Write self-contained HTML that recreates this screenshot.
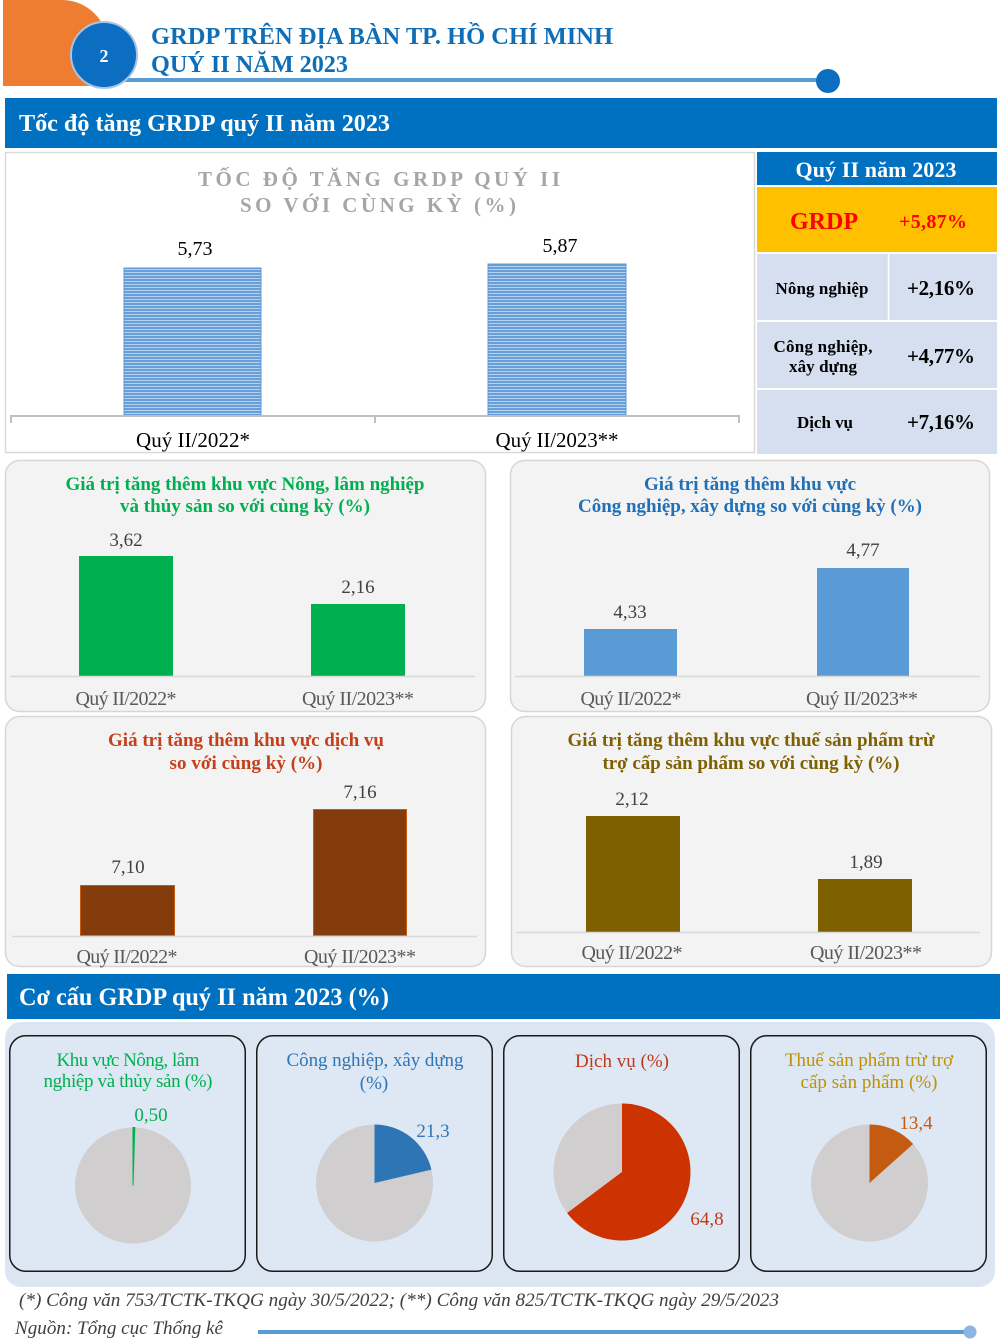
<!DOCTYPE html>
<html><head><meta charset="utf-8">
<style>
html,body{margin:0;padding:0;background:#fff}
svg{display:block}
text{font-family:"Liberation Serif","DejaVu Serif",serif}
.b{font-weight:bold}
.m{text-anchor:middle}
</style></head>
<body>
<svg width="1000" height="1343" viewBox="0 0 1000 1343" xmlns="http://www.w3.org/2000/svg">
<defs>
<pattern id="st" patternUnits="userSpaceOnUse" width="8" height="3">
<rect width="8" height="3" fill="#6A9ED8"/><rect y="2" width="8" height="1" fill="#B7D2EF"/>
</pattern>
</defs>
<rect width="1000" height="1343" fill="#fff"/>

<!-- Header -->
<path d="M3,0 H62 A46,46 0 0 1 108,46 V70 A16,16 0 0 1 92,86 H3 Z" fill="#EE7D31"/>
<line x1="120" y1="80" x2="828" y2="80" stroke="#5B9BD5" stroke-width="4"/>
<circle cx="828" cy="81" r="12" fill="#0B6EC0"/>
<circle cx="104" cy="55" r="33" fill="#0B6EC0" stroke="#A9C4E4" stroke-width="2"/>
<text x="104" y="62" class="b m" font-size="18" fill="#fff">2</text>
<text x="151" y="44" class="b" font-size="24" fill="#0E6EB8" textLength="462" lengthAdjust="spacingAndGlyphs">GRDP TRÊN ĐỊA BÀN TP. HỒ CHÍ MINH</text>
<text x="151" y="72" class="b" font-size="24" fill="#0E6EB8" textLength="197" lengthAdjust="spacingAndGlyphs">QUÝ II NĂM 2023</text>

<!-- Banner 1 -->
<rect x="5" y="98" width="992" height="50" fill="#0070C0"/>
<text x="19" y="131" class="b" font-size="24" fill="#fff" textLength="371" lengthAdjust="spacingAndGlyphs">Tốc độ tăng GRDP quý II năm 2023</text>

<!-- Top chart -->
<rect x="5.5" y="152.5" width="749" height="300" fill="#fff" stroke="#D9D9D9" stroke-width="1.5"/>
<text x="379" y="186" class="b m" font-size="21" fill="#A6A6A6" textLength="362">TỐC ĐỘ TĂNG GRDP QUÝ II</text>
<text x="378" y="212" class="b m" font-size="21" fill="#A6A6A6" textLength="276">SO VỚI CÙNG KỲ (%)</text>
<rect x="124" y="268" width="137" height="147" fill="url(#st)" stroke="#5B9BD5" stroke-width="1"/>
<rect x="488" y="264" width="138" height="151" fill="url(#st)" stroke="#5B9BD5" stroke-width="1"/>
<line x1="10" y1="416" x2="740" y2="416" stroke="#C0C0C0" stroke-width="2"/>
<line x1="11" y1="416" x2="11" y2="423" stroke="#C0C0C0" stroke-width="2"/>
<line x1="375" y1="416" x2="375" y2="423" stroke="#C0C0C0" stroke-width="2"/>
<line x1="739" y1="416" x2="739" y2="423" stroke="#C0C0C0" stroke-width="2"/>
<text x="195" y="255" class="m" font-size="20" fill="#000">5,73</text>
<text x="560" y="252" class="m" font-size="20" fill="#000">5,87</text>
<text x="193" y="447" class="m" font-size="21" fill="#000" textLength="114">Quý II/2022*</text>
<text x="557" y="447" class="m" font-size="21" fill="#000" textLength="123">Quý II/2023**</text>

<!-- Table -->
<rect x="757" y="152" width="240" height="33" fill="#0070C0"/>
<text x="876" y="177" class="b m" font-size="22" fill="#fff" textLength="161">Quý II năm 2023</text>
<rect x="757" y="187" width="240" height="65" fill="#FFC000"/>
<text x="824" y="229" class="b m" font-size="24" fill="#FF0000">GRDP</text>
<text x="933" y="228" class="b m" font-size="20" fill="#FF0000" textLength="68">+5,87%</text>
<rect x="757" y="254" width="240" height="66" fill="#D6DFEF"/>
<rect x="757" y="322" width="240" height="66" fill="#D6DFEF"/>
<rect x="757" y="390" width="240" height="64" fill="#D6DFEF"/>
<line x1="888.5" y1="254" x2="888.5" y2="320" stroke="#fff" stroke-width="1.5"/>
<text x="822" y="294" class="b m" font-size="17" fill="#000" textLength="93">Nông nghiệp</text>
<text x="941" y="295" class="b m" font-size="21" fill="#000" textLength="68">+2,16%</text>
<text x="823" y="352" class="b m" font-size="17" fill="#000" textLength="99">Công nghiệp,</text>
<text x="823" y="372" class="b m" font-size="17" fill="#000" textLength="68">xây dựng</text>
<text x="941" y="363" class="b m" font-size="21" fill="#000" textLength="68">+4,77%</text>
<text x="825" y="428" class="b m" font-size="17" fill="#000" textLength="56">Dịch vụ</text>
<text x="941" y="429" class="b m" font-size="21" fill="#000" textLength="68">+7,16%</text>

<!-- Panel 1 -->
<rect x="5.5" y="460.5" width="480" height="251" rx="14" fill="#F3F3F3" stroke="#D6D6D6" stroke-width="1.5"/>
<text x="245" y="490" class="b m" font-size="19" fill="#00B050" textLength="359">Giá trị tăng thêm khu vực Nông, lâm nghiệp</text>
<text x="245" y="512" class="b m" font-size="19" fill="#00B050" textLength="250">và thủy sản so với cùng kỳ (%)</text>
<rect x="79" y="556" width="94" height="120" fill="#00B050"/>
<rect x="311" y="604" width="94" height="72" fill="#00B050"/>
<line x1="10" y1="676.5" x2="475" y2="676.5" stroke="#D9D9D9" stroke-width="1.5"/>
<text x="126" y="546" class="m" font-size="19" fill="#404040">3,62</text>
<text x="358" y="593" class="m" font-size="19" fill="#404040">2,16</text>
<text x="126" y="705" class="m" font-size="20" fill="#595959" textLength="101">Quý II/2022*</text>
<text x="358" y="705" class="m" font-size="20" fill="#595959" textLength="112">Quý II/2023**</text>

<!-- Panel 2 -->
<rect x="510.5" y="460.5" width="479" height="251" rx="14" fill="#F3F3F3" stroke="#D6D6D6" stroke-width="1.5"/>
<text x="750" y="490" class="b m" font-size="19" fill="#1F70B8" textLength="212">Giá trị tăng thêm khu vực</text>
<text x="750" y="512" class="b m" font-size="19" fill="#1F70B8" textLength="344">Công nghiệp, xây dựng so với cùng kỳ (%)</text>
<rect x="584" y="629" width="93" height="47" fill="#5B9BD5"/>
<rect x="817" y="568" width="92" height="108" fill="#5B9BD5"/>
<line x1="515" y1="676.5" x2="980" y2="676.5" stroke="#D9D9D9" stroke-width="1.5"/>
<text x="630" y="618" class="m" font-size="19" fill="#404040">4,33</text>
<text x="863" y="556" class="m" font-size="19" fill="#404040">4,77</text>
<text x="631" y="705" class="m" font-size="20" fill="#595959" textLength="101">Quý II/2022*</text>
<text x="862" y="705" class="m" font-size="20" fill="#595959" textLength="112">Quý II/2023**</text>

<!-- Panel 3 -->
<rect x="5.5" y="716.5" width="480" height="250" rx="14" fill="#F3F3F3" stroke="#D6D6D6" stroke-width="1.5"/>
<text x="246" y="746" class="b m" font-size="19" fill="#C4401A" textLength="276">Giá trị tăng thêm khu vực dịch vụ</text>
<text x="246" y="769" class="b m" font-size="19" fill="#C4401A" textLength="153">so với cùng kỳ (%)</text>
<rect x="80.5" y="885.5" width="94" height="50" fill="#843C0C" stroke="#C55A11" stroke-width="1"/>
<rect x="313.5" y="809.5" width="93" height="126" fill="#843C0C" stroke="#C55A11" stroke-width="1"/>
<line x1="12" y1="936.5" x2="477" y2="936.5" stroke="#D9D9D9" stroke-width="1.5"/>
<text x="128" y="873" class="m" font-size="19" fill="#404040">7,10</text>
<text x="360" y="798" class="m" font-size="19" fill="#404040">7,16</text>
<text x="127" y="963" class="m" font-size="20" fill="#595959" textLength="101">Quý II/2022*</text>
<text x="360" y="963" class="m" font-size="20" fill="#595959" textLength="112">Quý II/2023**</text>

<!-- Panel 4 -->
<rect x="511.5" y="716.5" width="480" height="250" rx="14" fill="#F3F3F3" stroke="#D6D6D6" stroke-width="1.5"/>
<text x="751" y="746" class="b m" font-size="19" fill="#7F6000" textLength="367">Giá trị tăng thêm khu vực thuế sản phẩm trừ</text>
<text x="751" y="769" class="b m" font-size="19" fill="#7F6000" textLength="297">trợ cấp sản phẩm so với cùng kỳ (%)</text>
<rect x="586" y="816" width="94" height="116" fill="#7F6000"/>
<rect x="818" y="879" width="94" height="53" fill="#7F6000"/>
<line x1="516" y1="932.5" x2="980" y2="932.5" stroke="#D9D9D9" stroke-width="1.5"/>
<text x="632" y="805" class="m" font-size="19" fill="#404040">2,12</text>
<text x="866" y="868" class="m" font-size="19" fill="#404040">1,89</text>
<text x="632" y="959" class="m" font-size="20" fill="#595959" textLength="101">Quý II/2022*</text>
<text x="866" y="959" class="m" font-size="20" fill="#595959" textLength="112">Quý II/2023**</text>

<!-- Banner 2 -->
<rect x="7" y="974" width="993" height="45" fill="#0070C0"/>
<text x="19" y="1005" class="b" font-size="25" fill="#fff" textLength="370" lengthAdjust="spacingAndGlyphs">Cơ cấu GRDP quý II năm 2023 (%)</text>

<!-- Pie section -->
<rect x="5" y="1022" width="990" height="265" rx="16" fill="#DCE6F2"/>
<rect x="9.75" y="1035.75" width="235.5" height="235.5" rx="16" fill="#DEE8F4" stroke="#1a1a1a" stroke-width="1.5"/>
<rect x="256.75" y="1035.75" width="235.5" height="235.5" rx="16" fill="#DEE8F4" stroke="#1a1a1a" stroke-width="1.5"/>
<rect x="503.75" y="1035.75" width="235.5" height="235.5" rx="16" fill="#DEE8F4" stroke="#1a1a1a" stroke-width="1.5"/>
<rect x="750.75" y="1035.75" width="235.5" height="235.5" rx="16" fill="#DEE8F4" stroke="#1a1a1a" stroke-width="1.5"/>

<text x="128" y="1066" class="m" font-size="19" fill="#00B050" textLength="143">Khu vực Nông, lâm</text>
<text x="128" y="1087" class="m" font-size="19" fill="#00B050" textLength="169">nghiệp và thủy sản (%)</text>
<text x="151" y="1121" class="m" font-size="19" fill="#00B050">0,50</text>
<circle cx="133" cy="1185.5" r="58" fill="#D0CECE"/>
<path d="M133,1185.5 L133,1127.5 A58,58 0 0 1 134.8,1127.5 Z" fill="#00B050" stroke="#00B050" stroke-width="1"/>

<text x="375" y="1066" class="m" font-size="19" fill="#2E75B6" textLength="177">Công nghiệp, xây dựng</text>
<text x="374" y="1089" class="m" font-size="19" fill="#2E75B6">(%)</text>
<text x="433" y="1137" class="m" font-size="19" fill="#2E75B6">21,3</text>
<circle cx="374.5" cy="1183" r="58.5" fill="#D0CECE"/>
<path d="M374.5,1183 L374.5,1124.5 A58.5,58.5 0 0 1 431.4,1169.6 Z" fill="#2E75B6"/>

<text x="622" y="1067" class="m" font-size="19" fill="#C0391B" textLength="94">Dịch vụ (%)</text>
<text x="707" y="1225" class="m" font-size="19" fill="#C0391B">64,8</text>
<circle cx="622" cy="1172" r="68.5" fill="#D0CECE"/>
<path d="M622,1172 L622,1103.5 A68.5,68.5 0 1 1 567.1,1213 Z" fill="#CC3300"/>

<text x="869" y="1066" class="m" font-size="19" fill="#BF9000" textLength="168">Thuế sản phẩm trừ trợ</text>
<text x="869" y="1088" class="m" font-size="19" fill="#BF9000" textLength="137">cấp sản phẩm (%)</text>
<text x="916" y="1129" class="m" font-size="19" fill="#C55A11">13,4</text>
<circle cx="869.5" cy="1183" r="58.5" fill="#D0CECE"/>
<path d="M869.5,1183 L869.5,1124.5 A58.5,58.5 0 0 1 913.1,1144 Z" fill="#C55A11"/>

<!-- Footer -->
<text x="19" y="1306" font-size="19" font-style="italic" fill="#404040" textLength="760" lengthAdjust="spacingAndGlyphs">(*) Công văn 753/TCTK-TKQG ngày 30/5/2022; (**) Công văn 825/TCTK-TKQG ngày 29/5/2023</text>
<text x="15" y="1334" font-size="19" font-style="italic" fill="#404040" textLength="208" lengthAdjust="spacingAndGlyphs">Nguồn: Tổng cục Thống kê</text>
<line x1="258" y1="1332" x2="965" y2="1332" stroke="#5B9BD5" stroke-width="4"/>
<circle cx="970" cy="1332" r="6.5" fill="#8DB4E2"/>
</svg>
</body></html>
